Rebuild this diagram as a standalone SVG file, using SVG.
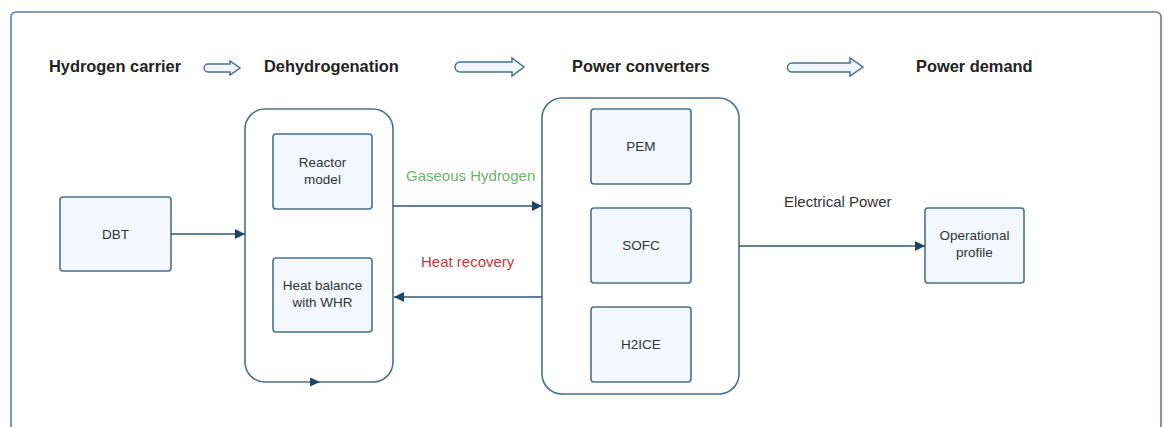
<svg xmlns="http://www.w3.org/2000/svg" width="1164" height="427" viewBox="0 0 1164 427">
<defs>
<style>
.frame{fill:#ffffff;stroke:#5b7f98;stroke-width:1.6}
.cont{fill:#ffffff;stroke:#4e7089;stroke-width:1.6}
.box{fill:#f2f8fd;stroke:#4e7089;stroke-width:1.6}
.blk{fill:#f0f6fb;stroke:#4e7089;stroke-width:1.5}
.title{font-family:"Liberation Sans",Arial,sans-serif;font-weight:bold;font-size:16.4px;fill:#222}
.lbl{font-family:"Liberation Sans",Arial,sans-serif;font-size:13.5px;fill:#333;text-anchor:middle}
.edge{font-family:"Liberation Sans",Arial,sans-serif;font-size:15px}
.line{fill:none;stroke:#2f5473;stroke-width:1.4}
</style>
<marker id="ah" viewBox="0 0 10 10" refX="10" refY="5" markerWidth="10" markerHeight="10" markerUnits="userSpaceOnUse" orient="auto">
<path d="M0,0 L10,5 L0,10 Z" fill="#1f4566"/>
</marker>
</defs>
<rect x="0" y="0" width="1164" height="427" fill="#ffffff"/>
<rect class="frame" x="11" y="12" width="1150" height="440" rx="5"/>

<g id="titles">
<text class="title" x="49" y="72">Hydrogen carrier</text>
<text class="title" x="264" y="72">Dehydrogenation</text>
<text class="title" x="572" y="72">Power converters</text>
<text class="title" x="916" y="72">Power demand</text>
</g>

<g id="block-arrows">
<path class="blk" d="M208,64 H230 V61 L240,68 L230,75 V72 H208 A4,4 0 0 1 208,64 Z"/>
<path class="blk" d="M460,62 H512 V58 L524,67 L512,76 V72 H460 A5,5 0 0 1 460,62 Z"/>
<path class="blk" d="M792,63 H850 V58 L863,67 L850,76 V72 H792 A4.5,4.5 0 0 1 792,63 Z"/>
</g>

<g id="node-dbt">
<rect class="box" x="60" y="197" width="111" height="74" rx="3"/>
<text class="lbl" x="115.5" y="239">DBT</text>
</g>

<g id="node-dehydrogenation">
<rect class="cont" x="245" y="109" width="148" height="273" rx="20"/>
</g>
<g id="node-reactor">
<rect class="box" x="273" y="134" width="99" height="75" rx="3"/>
<text class="lbl" x="322.5" y="167">Reactor</text>
<text class="lbl" x="322.5" y="184">model</text>
</g>
<g id="node-heat-balance">
<rect class="box" x="273" y="258" width="99" height="74" rx="3"/>
<text class="lbl" x="322.5" y="290">Heat balance</text>
<text class="lbl" x="322.5" y="307">with WHR</text>
</g>

<g id="node-power-converters">
<rect class="cont" x="542" y="98" width="197" height="296" rx="20"/>
</g>
<g id="node-pem">
<rect class="box" x="591" y="109" width="100" height="75" rx="3"/>
<text class="lbl" x="641" y="151">PEM</text>
</g>
<g id="node-sofc">
<rect class="box" x="591" y="208" width="100" height="75" rx="3"/>
<text class="lbl" x="641" y="250">SOFC</text>
</g>
<g id="node-h2ice">
<rect class="box" x="591" y="307" width="100" height="75" rx="3"/>
<text class="lbl" x="641" y="349">H2ICE</text>
</g>

<g id="node-operational-profile">
<rect class="box" x="925" y="208" width="99" height="75" rx="3"/>
<text class="lbl" x="974.5" y="240">Operational</text>
<text class="lbl" x="974.5" y="257">profile</text>
</g>

<g id="connectors">
<path class="line" d="M171,234 H245" marker-end="url(#ah)"/>
<path class="line" d="M393,206 H542" marker-end="url(#ah)"/>
<path class="line" d="M542,297 H394" marker-end="url(#ah)"/>
<path class="line" d="M739,246 H925" marker-end="url(#ah)"/>
<path d="M310,377.5 L320,382 L310,386.5 Z" fill="#1f4566"/>
<text class="edge" x="406" y="181" fill="#6db56d">Gaseous Hydrogen</text>
<text class="edge" x="421" y="267" fill="#c2383a">Heat recovery</text>
<text class="edge" x="784" y="207" fill="#333">Electrical Power</text>
</g>
</svg>
